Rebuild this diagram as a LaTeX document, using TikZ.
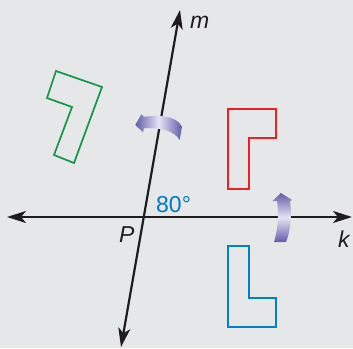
\documentclass[tikz,border=0pt]{standalone}
\usepackage{fontspec}
\setmainfont{Liberation Sans}
\usetikzlibrary{arrows.meta}
\definecolor{bgc}{HTML}{E6E7E8}
\definecolor{gfig}{RGB}{20,150,70}
\definecolor{rfig}{RGB}{237,32,36}
\definecolor{bfig}{RGB}{0,130,200}
\definecolor{anglecol}{RGB}{0,120,195}
\definecolor{linecol}{RGB}{30,28,30}
\definecolor{pdark}{RGB}{98,92,170}
\definecolor{plight}{RGB}{228,228,244}
\begin{document}
\begin{tikzpicture}[x=1pt,y=-1pt,
  axisline/.style={line width=2.2pt, draw=linecol,
    {Stealth[length=19pt,width=12pt,inset=5pt]}-{Stealth[length=19pt,width=12pt,inset=5pt]}},
  figshape/.style={line width=1.7pt, line join=miter},
  lbl/.style={font=\fontsize{23}{27}\selectfont\itshape, inner sep=0pt, anchor=base west, text=linecol},
  rotarrow/.style={draw=none}]
\useasboundingbox[fill=bgc] (0,0) rectangle (353,348);

% lines
\coordinate (kL) at (7,217);
\coordinate (kR) at (352,217);
\coordinate (mT) at (180,10);
\coordinate (mB) at (121,347);
\draw[axisline] (kL) -- (kR);
\draw[axisline] (mB) -- (mT);

% figures
\draw[figshape, gfig] (56,71) -- (102,87) -- (74,163) -- (54,155) -- (72,107) -- (47,98) -- cycle;
\draw[figshape, rfig] (228,109) -- (276,109) -- (276,138) -- (249,138) -- (249,189) -- (228,189) -- cycle;
\draw[figshape, bfig] (228,246) -- (249,246) -- (249,298) -- (276,298) -- (276,327) -- (228,327) -- cycle;

% rotation arrows
\shade[rotarrow, left color=pdark, right color=pdark, middle color=plight]
  (135.3,125) -- (141.3,114.3) -- (144,116.7)
  .. controls (158,115) and (176,115) .. (182,126.7)
  -- (179.7,140)
  .. controls (174,131) and (162,127.5) .. (144,128.3)
  -- (143,132.3) -- cycle;
\shade[rotarrow, top color=pdark, bottom color=pdark, middle color=plight]
  (281,193) -- (292,200) -- (290,201)
  .. controls (292,212) and (291,230) .. (286,242)
  -- (274,242)
  .. controls (278,230) and (279,212) .. (277,201)
  -- (272.5,201) -- cycle;

% labels
\node[lbl] (mlab) at (190,28) {m};
\node[lbl] (klab) at (338,247) {k};
\node[lbl] (plab) at (119,242) {P};
\node[lbl, font=\fontsize{23}{27}\selectfont, text=anglecol] (ang) at (156,212) {80°};
\end{tikzpicture}
\end{document}
